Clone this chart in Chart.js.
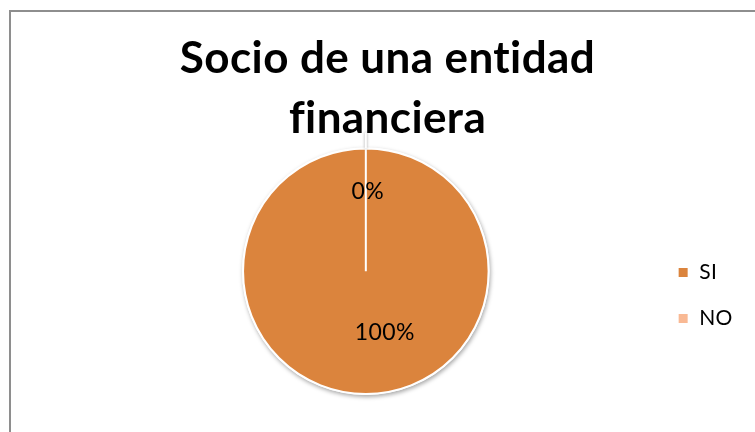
<!DOCTYPE html>
<html>
<head>
<meta charset="utf-8">
<script src="https://cdn.jsdelivr.net/npm/chart.js@4"></script>
<style>
  html, body { margin: 0; padding: 0; background: #fff; overflow: hidden; }
  body { width: 755px; height: 432px; position: relative; }
  #frame {
    position: absolute; left: 9px; top: 10px; width: 760px; height: 440px;
    border-top: 2px solid #8e8e8e; border-left: 2px solid #8e8e8e;
  }
  #wrap { position: absolute; left: 0; top: 0; width: 753px; height: 430px; }
</style>
</head>
<body>
<div id="frame"><div id="wrap"><canvas id="pieChart"></canvas></div></div>
<script>
'use strict';

const titleLines = ['Socio de una entidad', 'financiera'];
const categories = ['SI', 'NO'];
const percents = [100, 0];
const sliceColors = ['#DB843D', '#F9B994'];

// slight tracking on all canvas text (also keeps "fi" from turning into a ligature)
const textTracking = {
    id: 'textTracking',
    beforeDraw(chart, args, opts) {
        chart.ctx.letterSpacing = opts.spacing;
    }
};

// center the title over the whole canvas, not just the padded area
const wideTitle = {
    id: 'wideTitle',
    afterLayout(chart) {
        if (!chart.titleBlock) return;
        chart.titleBlock.left = 0;
        chart.titleBlock.right = chart.width;
        chart.titleBlock.width = chart.width;
    }
};

// percentage labels drawn inside the pie, one per slice
const sliceLabels = {
    id: 'sliceLabels',
    afterDatasetsDraw(chart, args, opts) {
        const ctx = chart.ctx;
        const meta = chart.getDatasetMeta(0);
        ctx.save();
        ctx.font = opts.font;
        ctx.fillStyle = opts.color;
        ctx.textAlign = 'center';
        ctx.textBaseline = 'middle';
        meta.data.forEach((arc, i) => {
            const p = arc.getProps(['x', 'y', 'startAngle', 'endAngle', 'outerRadius'], true);
            const mid = (p.startAngle + p.endAngle) / 2;
            const r = p.outerRadius * opts.radius[i];
            const x = p.x + Math.cos(mid) * r + opts.shift[i];
            const y = p.y + Math.sin(mid) * r;
            ctx.fillText(chart.data.datasets[0].data[i] + '%', x, y);
        });
        ctx.restore();
    }
};

// soft shadow under the pie, plus the pulled-out edge of empty slices
const pieDecor = {
    id: 'pieDecor',
    beforeDatasetsDraw(chart) {
        const arc = chart.getDatasetMeta(0).data[0];
        const p = arc.getProps(['x', 'y', 'outerRadius'], true);
        const ctx = chart.ctx;
        ctx.save();
        ctx.shadowColor = 'rgba(0,0,0,0.35)';
        ctx.shadowBlur = 4;
        ctx.shadowOffsetX = 1;
        ctx.shadowOffsetY = 2;
        ctx.beginPath();
        ctx.arc(p.x, p.y, p.outerRadius + 1, 0, Math.PI * 2);
        ctx.fillStyle = '#fff';
        ctx.fill();
        ctx.restore();
    },
    afterDatasetsDraw(chart, args, opts) {
        const ctx = chart.ctx;
        chart.getDatasetMeta(0).data.forEach(arc => {
            const p = arc.getProps(['x', 'y', 'startAngle', 'endAngle', 'outerRadius'], true);
            if (p.endAngle - p.startAngle > 0) return;
            const a = p.startAngle;
            const r0 = p.outerRadius;
            const r1 = p.outerRadius + opts.explode;
            ctx.save();
            ctx.shadowColor = 'rgba(0,0,0,0.4)';
            ctx.shadowBlur = 3;
            ctx.strokeStyle = '#fff';
            ctx.lineWidth = 2;
            ctx.beginPath();
            ctx.moveTo(p.x + Math.cos(a) * r0, p.y + Math.sin(a) * r0);
            ctx.lineTo(p.x + Math.cos(a) * r1, p.y + Math.sin(a) * r1);
            ctx.stroke();
            ctx.restore();
        });
    }
};

const CHART = document.getElementById('pieChart');

let pieChart = new Chart(CHART, {
    type: 'pie',
    data: {
        labels: categories,
        datasets: [{
            data: percents,
            backgroundColor: sliceColors,
            borderColor: '#fff',
            borderWidth: 2
        }]
    },
    options: {
        responsive: true,
        maintainAspectRatio: false,
        animation: false,
        layout: { padding: { left: 68, right: 22, top: 0, bottom: 47 } },
        plugins: {
            title: {
                display: true,
                text: titleLines,
                color: '#000',
                font: { family: 'Lato', size: 44, weight: 'bold', lineHeight: 1.38 },
                padding: { top: 16, bottom: -2 }
            },
            legend: {
                position: 'right',
                title: { display: true, text: '', font: { size: 10 }, padding: { top: 172, bottom: 0 } },
                labels: {
                    boxWidth: 11,
                    boxHeight: 11,
                    padding: 25,
                    color: '#000',
                    font: { family: 'Lato', size: 21 }
                }
            },
            tooltip: { enabled: false },
            sliceLabels: {
                font: '23px Lato',
                color: '#000',
                radius: [0.5, 0.65],
                shift: [19, 2]
            },
            pieDecor: { explode: 16 },
            textTracking: { spacing: '0.4px' }
        }
    },
    plugins: [textTracking, wideTitle, sliceLabels, pieDecor]
});
</script>
</body>
</html>
